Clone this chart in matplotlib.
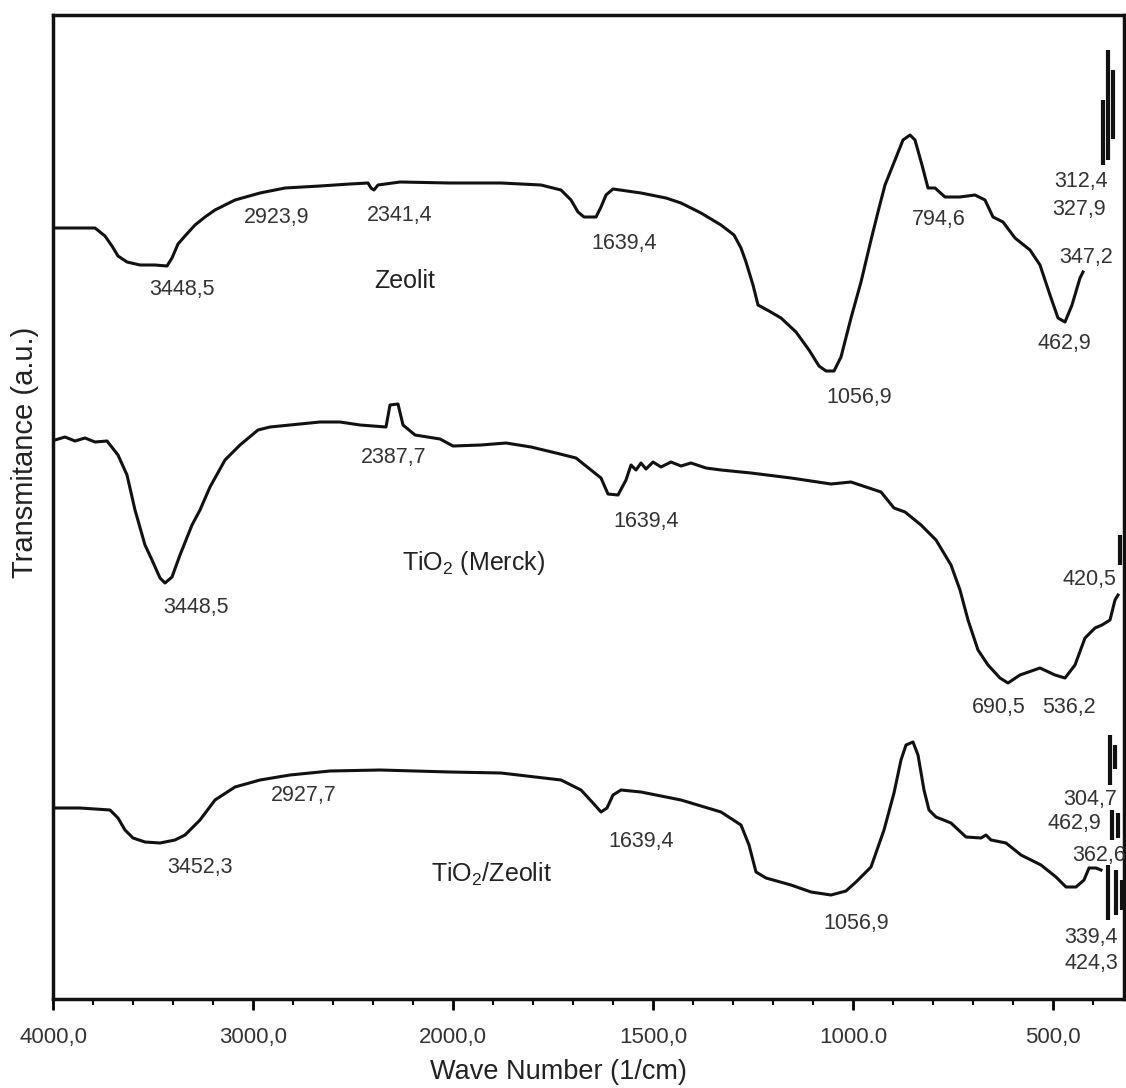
import numpy as np
import matplotlib
matplotlib.use('Agg')
import matplotlib.pyplot as plt
from matplotlib.ticker import FixedLocator, FixedFormatter

plt.rcParams['font.family'] = ['Liberation Sans', 'DejaVu Sans']

# --- spectra (wave number 1/cm, transmittance a.u.) ---
zeo_wn = [3990, 3790, 3740, 3705, 3675, 3630, 3565, 3490, 3430, 3405, 3375, 3340, 3290, 3240,
          3190, 3090, 2965, 2840, 2665, 2515, 2425, 2410, 2395, 2375, 2265, 2015,
          1880, 1780, 1730, 1705, 1687.5, 1672.5, 1642.5, 1630, 1617.5, 1600, 1530, 1467.5,
          1430, 1380, 1330, 1297.5, 1280, 1267.5, 1250, 1237.5, 1210, 1180, 1142.5, 1110,
          1085, 1067.5, 1047.5, 1030, 1005, 980, 955, 935, 920, 895, 875, 857.5, 845, 827.5,
          812.5, 795, 770, 732.5, 695, 670, 650, 625, 595, 557.5, 532.5, 507.5, 487.5, 470,
          452.5, 432.5, 425]
zeo_t = [77.1, 77.1, 76.3, 75.3, 74.3, 73.7, 73.4, 73.4, 73.3, 74.1, 75.5, 76.3, 77.4, 78.2,
         78.9, 79.9, 80.6, 81.1, 81.3, 81.5, 81.6, 81.1, 80.9, 81.4, 81.7, 81.6,
         81.6, 81.4, 80.9, 79.9, 78.7, 78.2, 78.2, 79.2, 80.4, 81.0, 80.6, 80.1,
         79.6, 78.6, 77.4, 76.4, 75.1, 73.7, 71.4, 69.4, 68.8, 68.1, 66.7, 64.9,
         63.3, 62.8, 62.8, 64.2, 68.1, 71.7, 75.9, 79.1, 81.4, 83.9, 85.9, 86.4, 85.9, 83.4,
         81.1, 81.1, 80.2, 80.2, 80.4, 79.9, 78.2, 77.7, 76.1, 74.9, 73.4, 70.4, 68.1, 67.7,
         69.4, 72.1, 72.7]

tio2_wn = [3990, 3940, 3890, 3840, 3790, 3730, 3675, 3630, 3590, 3540, 3505, 3465, 3440, 3405,
           3365, 3305, 3265, 3215, 3140, 3065, 2975, 2915, 2765, 2665, 2565, 2465, 2335, 2315,
           2275, 2250, 2190, 2065, 2000, 1930, 1867.5, 1805, 1742.5, 1692.5, 1655, 1630,
           1612.5, 1587.5, 1567.5, 1555, 1542.5, 1530, 1517.5, 1500, 1480, 1455, 1430, 1405,
           1367.5, 1330, 1255, 1155, 1055, 1005, 930, 897.5, 870, 830, 792.5, 755, 732.5,
           712.5, 687.5, 662.5, 632.5, 612.5, 582.5, 532.5, 495, 470, 445, 420, 395, 377.5,
           357.5, 345, 337.5]
tio2_t = [55.9, 56.2, 55.8, 56.1, 55.7, 55.8, 54.4, 52.4, 48.9, 45.4, 43.9, 42.1, 41.6, 42.2,
          44.4, 47.4, 48.9, 51.2, 53.9, 55.4, 56.9, 57.2, 57.5, 57.7, 57.7, 57.4, 57.2, 59.4,
          59.5, 57.4, 56.4, 56.0, 55.3, 55.4, 55.6, 55.2, 54.6, 54.1, 52.9, 52.1,
          50.5, 50.4, 51.9, 53.4, 52.9, 53.6, 53.0, 53.7, 53.2, 53.7, 53.3, 53.6,
          53.1, 52.9, 52.6, 52.1, 51.5, 51.7, 50.7, 49.1, 48.7, 47.4, 45.9, 43.4, 40.9,
          37.9, 34.9, 33.4, 32.1, 31.6, 32.4, 33.1, 32.4, 32.1, 33.4, 36.1, 37.1, 37.4,
          37.9, 39.9, 40.4]

mix_wn = [3990, 3865, 3715, 3675, 3640, 3600, 3540, 3465, 3390, 3340, 3265, 3190, 3090, 2965,
          2815, 2615, 2365, 2015, 1880, 1730, 1680, 1650, 1630, 1615, 1600, 1580, 1530, 1430,
          1330, 1280, 1260, 1242.5, 1217.5, 1155, 1105, 1055, 1017.5, 992.5, 955, 922.5,
          897.5, 880, 867.5, 850, 837.5, 822.5, 810, 792.5, 755, 717.5, 680, 667.5, 655,
          617.5, 580, 530, 492.5, 467.5, 442.5, 422.5, 410, 392.5, 380]
mix_t = [19.1, 19.1, 18.9, 18.1, 16.9, 16.1, 15.7, 15.6, 15.9, 16.4, 17.9, 19.9, 21.2, 21.9,
         22.4, 22.8, 22.9, 22.7, 22.6, 21.9, 20.9, 19.6, 18.7, 19.1, 20.4, 20.9, 20.7, 19.9,
         18.7, 17.4, 15.4, 12.7, 12.1, 11.4, 10.7, 10.4, 10.8, 11.7, 13.2, 16.9,
         20.6, 23.9, 25.4, 25.7, 24.4, 20.9, 18.9, 18.2, 17.6, 16.2, 16.1, 16.4, 15.9,
         15.6, 14.4, 13.4, 12.2, 11.2, 11.2, 11.9, 13.1, 13.1, 12.9]

# noisy end of the spectra below ~400 1/cm (vertical bars)
bar_wn = [375, 362.5, 350, 332.5, 357.5, 345, 352.5, 337.5, 362.5, 342.5, 327.5]
bar_lo = [83.4, 83.9, 86.0, 43.4, 21.4, 23.0, 15.9, 16.1, 7.9, 8.4, 8.9]
bar_hi = [89.9, 94.9, 92.9, 46.4, 26.4, 25.4, 18.9, 18.6, 13.4, 12.9, 11.9]

# --- peak labels ---
lab_text = ['3448,5', '2923,9', '2341,4', '1639,4', '1056,9', '794,6', '312,4', '327,9',
            '347,2', '462,9',
            '2387,7', '1639,4', '3448,5', '420,5', '690,5', '536,2',
            '2927,7', '1639,4', '3452,3', '1056,9', '304,7', '462,9', '362,6', '339,4', '424,3']
lab_wn = [3355, 2880, 2265, 1572.5, 985, 785, 430, 435, 417.5, 472.5,
          2295, 1517.5, 3285, 410, 635, 460,
          2745, 1530, 3265, 992.5, 407.5, 447.5, 385, 405, 405]
lab_t = [70.9, 78.1, 78.4, 75.6, 60.1, 77.9, 81.7, 78.9, 74.2, 65.6,
         54.2, 47.7, 39.2, 41.9, 29.1, 29.1,
         20.4, 15.7, 13.1, 7.6, 19.9, 17.6, 14.4, 6.2, 3.6]

name_text = ['Zeolit', 'TiO$\\mathregular{_2}$ (Merck)', 'TiO$\\mathregular{_2}$/Zeolit']
name_wn = [2240, 1947.5, 1905]
name_t = [71.8, 43.6, 12.5]

major_ticks = [4000, 3000, 2000, 1500, 1000, 500]
major_labels = ['4000,0', '3000,0', '2000,0', '1500,0', '1000.0', '500,0']
minor_ticks = [3800, 3600, 3400, 3200, 2800, 2600, 2400, 2200,
               1900, 1800, 1700, 1600, 1400, 1300, 1200, 1100,
               900, 800, 700, 600, 400]


def fwd(x):
    x = np.asarray(x, float)
    return np.where(x >= 2000, (x - 2000) / 1000.0 + 2, (x - 1000) / 500.0)


def inv(u):
    u = np.asarray(u, float)
    return np.where(u >= 2, (u - 2) * 1000.0 + 2000, u * 500.0 + 1000)


fig = plt.figure(figsize=(11.26, 10.88), dpi=100)
ax = fig.add_axes([53 / 1126, 89 / 1088, 1071 / 1126, 984 / 1088])
ax.set_xscale('function', functions=(fwd, inv))

lc = '#111111'
for wn, t in [(zeo_wn, zeo_t), (tio2_wn, tio2_t), (mix_wn, mix_t)]:
    ax.plot(wn, t, color=lc, lw=2.2, solid_joinstyle='round')
ax.vlines(bar_wn, bar_lo, bar_hi, color=lc, lw=3)

for s, x, y in zip(lab_text, lab_wn, lab_t):
    ax.text(x, y, s, ha='center', va='center', fontsize=15.5, color='#333333')
for s, x, y in zip(name_text, name_wn, name_t):
    ax.text(x, y, s, ha='center', va='center', fontsize=18, color='#222222')

ax.set_xlim(4000, 322.5)
ax.set_ylim(0, 98.4)
ax.set_yticks([])
ax.xaxis.set_major_locator(FixedLocator(major_ticks))
ax.xaxis.set_major_formatter(FixedFormatter(major_labels))
ax.xaxis.set_minor_locator(FixedLocator(minor_ticks))
ax.tick_params(axis='x', which='major', direction='out', length=8, width=2,
               pad=12, labelsize=16, labelcolor='#333333')
ax.tick_params(axis='x', which='minor', direction='out', length=4, width=1.5)
for sp in ax.spines.values():
    sp.set_linewidth(2.5)
    sp.set_color('#111111')

ax.set_xlabel('Wave Number (1/cm)', fontsize=19.5, color='#222222', va='center')
ax.xaxis.set_label_coords(0.472, -0.074)
ax.set_ylabel('Transmitance (a.u.)', fontsize=21, color='#222222', va='center')
ax.yaxis.set_label_coords(-0.026, 0.556)

fig.savefig('out.png', dpi=100)
